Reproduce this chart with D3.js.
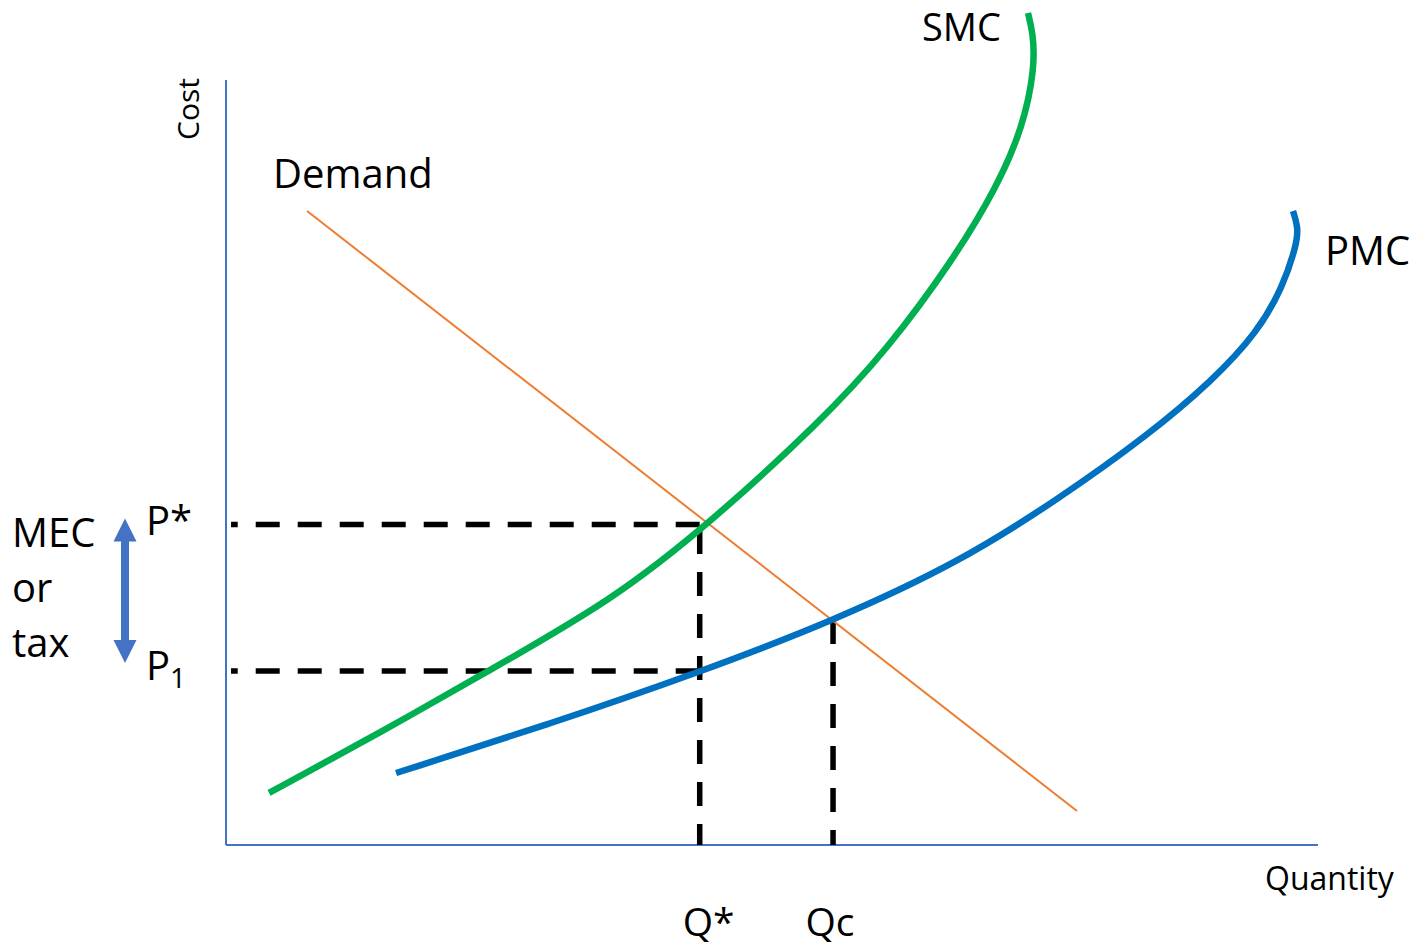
<!DOCTYPE html>
<html>
<head>
<meta charset="utf-8">
<script src="https://cdn.jsdelivr.net/npm/d3@7"></script>
<style>
  html, body { margin: 0; padding: 0; background: #fff; }
  svg { display: block; }
  text { font-family: "Open Sans", "Noto Sans", sans-serif; fill: #000; }
</style>
</head>
<body>
<svg id="chart" width="1421" height="947"></svg>
<script>
// Quantity / cost readings (quantity 0–100, cost 0–100 on the drawn axes)
const smcQ = [3.94, 14.38, 23.53, 35.44, 44.32, 54.40, 60.53, 66.58, 70.60, 72.99, 74.08, 73.90, 73.44];
const smcC = [6.80, 14.90, 22.35, 32.03, 42.09, 55.29, 64.71, 76.47, 86.01, 93.86, 101.70, 106.14, 108.76];

const pmcQ = [15.57, 29.67, 43.41, 55.59, 67.22, 76.37, 84.34, 90.38, 94.41, 96.79, 98.08, 98.17, 97.71];
const pmcC = [9.41, 15.82, 22.61, 29.28, 37.00, 45.36, 53.46, 60.78, 66.93, 72.94, 78.69, 80.78, 82.88];

const demandQ = [7.42, 77.93];
const demandC = [82.88, 4.44];

// Equilibrium guide values
const guideQ = { qStar: 43.38, qc: 55.59 };
const guideC = { pStar: 41.90, p1: 22.75, pc: 29.41 };

const svg = d3.select("#chart");

const x = d3.scaleLinear().domain([0, 100]).range([226, 1318]);
const y = d3.scaleLinear().domain([0, 100]).range([845, 80]);

const zip = (qs, cs) => qs.map((q, i) => [q, cs[i]]);
const smooth = d3.line().x(d => x(d[0])).y(d => y(d[1])).curve(d3.curveBasis);
const straight = d3.line().x(d => x(d[0])).y(d => y(d[1]));

// Axes: plain lines, no ticks
const axisColor = "#4472C4";
svg.append("line")
  .attr("x1", x(0)).attr("x2", x(0)).attr("y1", y(0)).attr("y2", y(100))
  .attr("stroke", axisColor).attr("stroke-width", 2);
svg.append("line")
  .attr("x1", x(0)).attr("x2", x(100)).attr("y1", y(0)).attr("y2", y(0))
  .attr("stroke", axisColor).attr("stroke-width", 2);

// Dashed guides
const dash = "24 18";
const guide = (pts, offset) => svg.append("path")
  .attr("d", straight(pts))
  .attr("fill", "none").attr("stroke", "#000")
  .attr("stroke-width", 5.5).attr("stroke-dasharray", dash)
  .attr("stroke-dashoffset", offset || 0);

guide([[guideQ.qStar, guideC.pStar], [0.46, guideC.pStar]]);
guide([[guideQ.qStar, guideC.p1], [0.46, guideC.p1]]);
guide([[guideQ.qStar, guideC.pStar], [guideQ.qStar, 0]], 36.5);
guide([[guideQ.qc, guideC.pc], [guideQ.qc, 0]]);

// Demand
svg.append("path")
  .attr("d", straight(zip(demandQ, demandC)))
  .attr("fill", "none").attr("stroke", "#ED7D31").attr("stroke-width", 2);

// Social marginal cost
svg.append("path")
  .attr("d", smooth(zip(smcQ, smcC)))
  .attr("fill", "none").attr("stroke", "#00B050").attr("stroke-width", 6.5);

// Private marginal cost
svg.append("path")
  .attr("d", smooth(zip(pmcQ, pmcC)))
  .attr("fill", "none").attr("stroke", "#0070C0").attr("stroke-width", 6.5);

// Double-headed arrow for the external cost gap
(function () {
  const ax = 125, top = y(guideC.pStar) - 6, bot = y(guideC.p1) - 8;
  const hw = 11.5, hl = 23, sw = 4;
  const pts = [
    [ax, top], [ax + hw, top + hl], [ax + sw, top + hl],
    [ax + sw, bot - hl], [ax + hw, bot - hl], [ax, bot],
    [ax - hw, bot - hl], [ax - sw, bot - hl], [ax - sw, top + hl],
    [ax - hw, top + hl]
  ];
  svg.append("path")
    .attr("d", "M" + pts.map(p => p.join(",")).join("L") + "Z")
    .attr("fill", axisColor);
})();

// Labels
const label = (txt, tx, ty, size, anchor) => svg.append("text")
  .attr("x", tx).attr("y", ty)
  .attr("font-size", size)
  .attr("text-anchor", anchor || "start")
  .text(txt);

label("SMC", 922, 41, 38);
label("PMC", 1325, 265, 40);
label("Demand", 273, 188, 40);
label("Quantity", 1265, 890, 32);
svg.append("text")
  .attr("transform", "translate(199,109) rotate(-90)")
  .attr("font-size", 30).attr("text-anchor", "middle")
  .text("Cost");

label("Q*", x(guideQ.qStar) + 9, 936, 39, "middle");
label("Qc", x(guideQ.qc) - 3, 936, 39, "middle");

label("P*", 146, 535, 40);
const p1 = label("P", 146, 680, 40);
p1.append("tspan").attr("font-size", 28).attr("dy", 8).text("1");

label("MEC", 12, 547, 40);
label("or", 12, 602, 40);
label("tax", 12, 657, 40);
</script>
</body>
</html>
